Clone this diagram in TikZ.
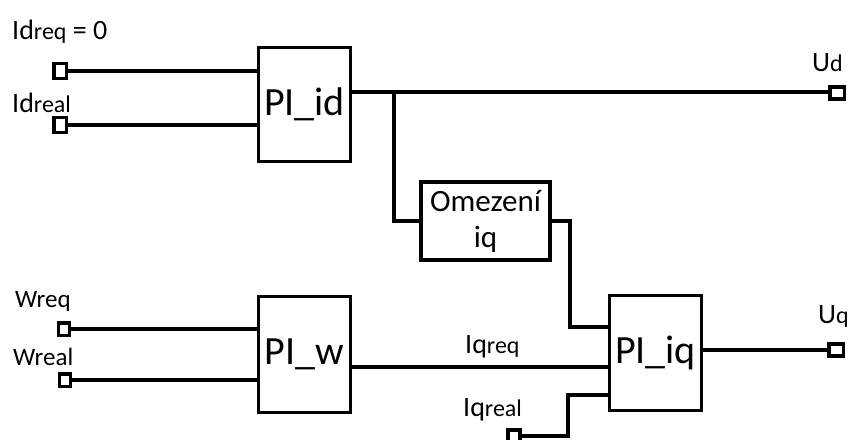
\documentclass[tikz,border=0pt]{standalone}
\usepackage{fontspec}
\setmainfont{Carlito}
\newcommand\subtx[1]{{\fontsize{24}{26}\selectfont #1}}
\begin{document}
\begin{tikzpicture}[x=1pt,y=-1pt,
  blk/.style={draw, line width=3.5pt, inner sep=0pt, font=\fontsize{40}{42}\selectfont},
  term/.style={draw, line width=3.5pt, minimum width=12.5pt, minimum height=15pt, inner sep=0pt, fill=white},
  termr/.style={term, minimum width=14.5pt, minimum height=12pt},
  wire/.style={line width=3.5pt},
  lbl/.style={anchor=base west, inner sep=0pt, font=\fontsize{28}{30}\selectfont},
  lbls/.style={anchor=base west, inner sep=0pt, font=\fontsize{25}{27}\selectfont}]
\useasboundingbox (0,0) rectangle (850,439);
% blocks
\node[blk, minimum width=92pt, minimum height=114pt] (PIid) at (304.5,104.5) {PI\_id};
\node[blk, minimum width=129pt, minimum height=78pt, font=\fontsize{31}{36}\selectfont, align=center] (Om) at (485.5,221) {Omezení\\iq};
\node[blk, minimum width=92pt, minimum height=116pt] (PIw) at (304.5,354.5) {PI\_w};
\node[blk, minimum width=92pt, minimum height=115pt] (PIiq) at (655.5,353) {PI\_iq};
% terminals
\node[term] (tIdreq) at (60,71) {};
\node[term] (tIdreal) at (60,125) {};
\node[term, minimum width=11pt, minimum height=12.5pt] (tWreq) at (64,329) {};
\node[term, minimum width=11pt, minimum height=12.5pt] (tWreal) at (65,380) {};
\node[termr] (tUd) at (837,93) {};
\node[termr] (tUq) at (836,350) {};
\node[term, minimum width=12pt, minimum height=12pt] (tIqreal) at (514,436) {};
% helper coordinates
\coordinate (br) at (394,92);
\coordinate (c1) at (570,327);
\coordinate (c2) at (568,395);
\coordinate (m) at (0,367);
% wires
\draw[wire] (tIdreq) -- (PIid.west |- tIdreq);
\draw[wire] (tIdreal) -- (PIid.west |- tIdreal);
\draw[wire] (PIid.east |- br) -- (tUd.west |- br);
\draw[wire] (br) |- (Om.west);
\draw[wire] (Om.east) -| (c1) -- (PIiq.west |- c1);
\draw[wire] (tWreq) -- (PIw.west |- tWreq);
\draw[wire] (tWreal) -- (PIw.west |- tWreal);
\draw[wire] (PIw.east |- m) -- (PIiq.west |- m);
\draw[wire] (tIqreal) -| (c2) -- (PIiq.west |- c2);
\draw[wire] (PIiq.east |- tUq) -- (tUq);
% labels
\node[lbl] (lIdreq) at (12,39) {Id\subtx{req} = 0};
\node[lbl] (lIdreal) at (12,112) {Id\subtx{real}};
\node[lbls] (lWreq) at (15,307) {Wreq};
\node[lbls] (lWreal) at (13,365) {Wreal};
\node[lbl] (lUd) at (812,71) {U\subtx{d}};
\node[lbl] (lUq) at (818,323) {U\subtx{q}};
\node[lbl] (lIqreq) at (465,353) {Iq\subtx{req}};
\node[lbl] (lIqreal) at (463,416) {Iq\subtx{real}};
\end{tikzpicture}
\end{document}
